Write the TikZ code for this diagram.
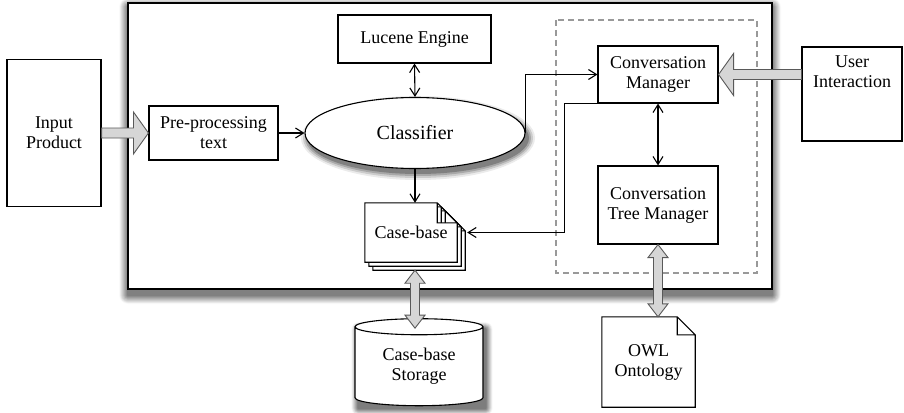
\documentclass[tikz,border=0pt]{standalone}
\usepackage{fontspec}
\setmainfont{Liberation Serif}
\usetikzlibrary{arrows.meta,calc,shapes.geometric}

\pgfdeclarelayer{frame}
\pgfdeclarelayer{back}
\pgfsetlayers{frame,back,main}

% wide grey arrow, one head: tail, tip
\newcommand{\fatarrow}[2]{%
  \draw[fat] ($(#1)!5pt!-90:(#2)$) -- ($(#2)!15pt!(#1)!5pt!-90:(#2)$)
    -- ($(#2)!15pt!(#1)!21pt!-90:(#2)$) -- (#2)
    -- ($(#2)!15pt!(#1)!21pt!90:(#2)$) -- ($(#2)!15pt!(#1)!5pt!90:(#2)$)
    -- ($(#1)!5pt!90:(#2)$) -- cycle;}
% wide grey arrow, two heads
\newcommand{\fatdarrow}[2]{%
  \draw[fat] (#1) -- ($(#1)!13pt!(#2)!10pt!-90:(#2)$) -- ($(#1)!13pt!(#2)!4.5pt!-90:(#2)$)
    -- ($(#2)!13pt!(#1)!4.5pt!90:(#1)$) -- ($(#2)!13pt!(#1)!10pt!90:(#1)$) -- (#2)
    -- ($(#2)!13pt!(#1)!10pt!-90:(#1)$) -- ($(#2)!13pt!(#1)!4.5pt!-90:(#1)$)
    -- ($(#1)!13pt!(#2)!4.5pt!90:(#2)$) -- ($(#1)!13pt!(#2)!10pt!90:(#2)$) -- cycle;}

\begin{document}
\begin{tikzpicture}[
    x = 1pt, y = -1pt,
    font = \fontsize{18}{20}\selectfont,
    box/.style = {draw, line width=1.1pt, align=center, inner sep=0pt},
    page/.style = {draw, fill=white, line width=1.1pt},
    line/.style = {line width=1.1pt, -{Straight Barb[length=8pt,width=10pt]}},
    dline/.style = {line width=1.1pt, {Straight Barb[length=8pt,width=10pt]}-{Straight Barb[length=8pt,width=10pt]}},
    fat/.style = {fill=black!16, draw=black!65, line width=0.9pt}
]
    \useasboundingbox (0,0) rectangle (904,412);

    % system frame with its shadow
    \begin{pgfonlayer}{frame}
        \foreach \i [evaluate=\i as \c using 2+6*\i] in {0,...,8}
            \fill[black!\c, rounded corners=9-\i] (119+\i,-2+\i) rectangle (781-\i,304-\i);
        \draw[fill=white, line width=1.6pt] (128,3) rectangle (772,289);
    \end{pgfonlayer}
    \draw[dashed, dash pattern=on 6pt off 4pt, black!40, line width=1.1pt] (556,20) rectangle (757,273);

    % classifier with its shadow
    \coordinate (clfc) at (415,133);
    \fill[black!8] ([shift={(3,5)}]clfc) ellipse ({117pt} and {42pt});
    \fill[black!20] ([shift={(3,5)}]clfc) ellipse ({115pt} and {40pt});
    \fill[black!34] ([shift={(3,5)}]clfc) ellipse ({113pt} and {38pt});
    \fill[black!50] ([shift={(3,5)}]clfc) ellipse ({111pt} and {36pt});

    \node[box, minimum width=94pt, minimum height=147pt] (inp) at (54,133) {Input\\Product};
    \node[box, minimum width=129pt, minimum height=54pt] (pre) at (213.5,133) {Pre-processing\\text};
    \node[box, minimum width=153pt, minimum height=48pt] (luc) at (414.5,39) {Lucene Engine};
    \node[ellipse, draw, fill=white, line width=1.1pt, inner sep=0pt,
          minimum width=220pt, minimum height=71pt, font=\fontsize{20}{22}\selectfont] (clf) at (clfc) {Classifier};
    \node[minimum width=92pt, minimum height=59pt, inner sep=0pt] (cb) at (411,232.5) {Case-base};
    \node[box, minimum width=120pt, minimum height=57pt] (cm) at (658,74.5) {Conversation\\Manager};
    \node[box, minimum width=120pt, minimum height=78pt] (ctm) at (658,205) {Conversation\\Tree Manager};
    \node[box] (usr) at (852,94) {\parbox[c][94pt][t]{100pt}{\centering\vspace*{9pt}User\\Interaction}};
    \node[cylinder, shape border rotate=90, aspect=0.22, draw, fill=white, line width=1.1pt,
          align=center, inner sep=0pt, minimum width=128pt, minimum height=87pt] (sto) at (419,366.5) {Case-base\\Storage};
    \node[align=center, inner sep=0pt, minimum width=93pt, minimum height=90pt] (owl) at (648.5,362) {OWL\\Ontology};

    \begin{pgfonlayer}{back}
        % shadow of the storage
        \foreach \i [evaluate=\i as \c using 3+8*\i] in {0,...,6}
            \fill[black!\c, rounded corners=7-\i] ([shift={(-3+\i,4+\i)}]sto.west |- sto.north)
                rectangle ([shift={(9-\i,9-\i)}]sto.east |- sto.south);
        % stacked pages behind the case-base
        \foreach \o in {8,4,0}
            \draw[page] ([shift={(\o,\o)}]cb.north west) -- ([shift={(\o-20,\o)}]cb.north east)
                -- ([shift={(\o,\o+20)}]cb.north east) -- ([shift={(\o,\o)}]cb.south east)
                -- ([shift={(\o,\o)}]cb.south west) -- cycle
                ([shift={(\o-20,\o)}]cb.north east) -- ([shift={(\o-20,\o+20)}]cb.north east)
                -- ([shift={(\o,\o+20)}]cb.north east);
    \end{pgfonlayer}
    \draw[line width=1.1pt] (owl.north west) -- ([shift={(-18,0)}]owl.north east)
        -- ([shift={(0,18)}]owl.north east) -- (owl.south east) -- (owl.south west) -- cycle
        ([shift={(-18,0)}]owl.north east) -- ([shift={(-18,18)}]owl.north east) -- ([shift={(0,18)}]owl.north east);

    \draw[line] (pre.east) -- (clf.west);
    \draw[dline] (luc.south) -- (clf.north);
    \draw[line] (clf.south) -- (clf.south |- cb.north);
    \draw[line] (clf.east) |- (cm.west);
    \draw[line] (cm.south west) -- ++(-33,0) |- ([xshift=10pt]cb.east);
    \draw[dline] (cm.south) -- (ctm.north);

    \coordinate (uin) at (usr.west |- cm.east);
    \coordinate (cbb) at ([shift={(4,8)}]cb.south);
    \coordinate (stt) at ([shift={(0,10)}]cbb |- sto.north);
    \coordinate (owt) at (ctm.south |- owl.north);
    \fatarrow{inp.east}{pre.west}
    \fatarrow{uin}{cm.east}
    \fatdarrow{cbb}{stt}
    \fatdarrow{ctm.south}{owt}
\end{tikzpicture}
\end{document}
